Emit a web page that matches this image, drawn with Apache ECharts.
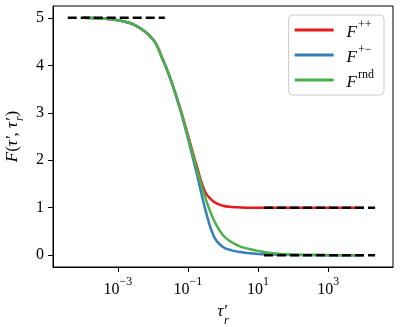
<!DOCTYPE html>
<html>
<head>
<meta charset="utf-8">
<script src="https://cdn.jsdelivr.net/npm/echarts@6/dist/echarts.min.js"></script>
<style>
  html, body { margin: 0; padding: 0; background: #fff; }
  #main { width: 400px; height: 327px; }
</style>
</head>
<body>
<div id="main"></div>
<script>
// x positions as log10(tau'_r)
var logX = [-4, -3.5, -3, -2.5, -2, -1.75, -1.5, -1.25, -1, -0.75, -0.5, -0.25, 0, 0.25, 0.5, 0.75, 1, 1.25, 1.5, 2, 2.5, 3, 3.5, 4]
// F++ (red), F+- (blue), Frnd (green)
var fPP = [5.0, 4.985, 4.95, 4.84, 4.55, 4.18, 3.72, 3.16, 2.53, 1.88, 1.32, 1.12, 1.04, 1.015, 1.005, 1.0, 1.0, 1.0, 1.0, 1.0, 1.0, 1.0, 1.0, 1.0]
var fPM = [5.0, 4.985, 4.95, 4.84, 4.55, 4.18, 3.71, 3.14, 2.46, 1.72, 0.95, 0.38, 0.17, 0.1, 0.065, 0.04, 0.025, 0.015, 0.01, 0.003, 0.001, 0, 0, 0]
var fRnd = [5.0, 4.985, 4.95, 4.84, 4.55, 4.18, 3.72, 3.15, 2.5, 1.82, 1.2, 0.72, 0.42, 0.27, 0.18, 0.13, 0.09, 0.055, 0.035, 0.012, 0.004, 0.001, 0, 0]
// black dashed asymptotes: [log10 x start, log10 x end, level]
var asymLeft = [-4.43, -1.66, 5]
var asymHigh = [1.17, 4.34, 1]
var asymLow = [1.17, 4.34, 0]
var xTicks = [-3, -1, 1, 3]
var yTicks = [0, 1, 2, 3, 4, 5]
var names = ['{f|F}{s|++}', '{f|F}{s|+−}', '{f|F}{s|rnd}']

var serif = 'Liberation Serif'
var pair = (a, b) => a.map((v, i) => [v, b[i]])
var seg = (s) => [[s[0], s[2]], [s[1], s[2]]]

var myChart = echarts.init(document.getElementById('main'))

var curve = (name, data, color, z) => ({
  type: 'line',
  name: name,
  data: pair(logX, data),
  smooth: 0.4,
  showSymbol: false,
  symbol: 'none',
  z: z,
  itemStyle: { color: color },
  lineStyle: { color: color, width: 2.5 }
})
var dash = (s) => ({
  type: 'line',
  data: seg(s),
  showSymbol: false,
  symbol: 'none',
  z: 10,
  lineStyle: { color: '#000', width: 2.5, type: [9, 4] }
})

var option = {
  animation: false,
  backgroundColor: '#fff',
  grid: { left: 53, right: 7, top: 6, bottom: 60, outerBoundsMode: 'none', show: true, borderColor: '#000', borderWidth: 1 },
  legend: {
    orient: 'vertical',
    right: 16,
    top: 15,
    icon: 'rect',
    itemWidth: 39,
    itemHeight: 3,
    itemGap: 3,
    padding: [4, 10, 4, 6],
    borderColor: '#cccccc',
    borderWidth: 1,
    borderRadius: 4,
    backgroundColor: 'rgba(255,255,255,0.8)',
    data: names,
    formatter: (n) => n,
    textStyle: {
      padding: [0, 0, 0, 8],
      rich: {
        f: { fontFamily: serif, fontStyle: 'italic', fontSize: 17, lineHeight: 22, verticalAlign: 'bottom', color: '#000' },
        s: { fontFamily: serif, fontSize: 12, lineHeight: 14, verticalAlign: 'top', color: '#000', padding: [0, 0, 0, 1] }
      }
    }
  },
  xAxis: {
    type: 'value',
    min: -4.85,
    max: 4.85,
    name: '{t|τ′}{r|r}',
    nameLocation: 'middle',
    nameGap: 36,
    nameTextStyle: {
      rich: {
        t: { fontFamily: serif, fontStyle: 'italic', fontSize: 17, lineHeight: 18, verticalAlign: 'top', color: '#000' },
        r: { fontFamily: serif, fontStyle: 'italic', fontSize: 12, lineHeight: 24, verticalAlign: 'top', color: '#000', padding: [12, 0, 0, -3] }
      }
    },
    axisLine: { onZero: false, lineStyle: { color: '#000', width: 1 } },
    splitLine: { show: false },
    axisTick: { customValues: xTicks, length: 5, lineStyle: { color: '#000' } },
    axisLabel: {
      customValues: xTicks,
      margin: 9,
      formatter: (v) => '{b|10}{e|' + (v < 0 ? '−' : '') + Math.abs(v) + '}',
      rich: {
        b: { fontFamily: serif, fontSize: 16, lineHeight: 22, verticalAlign: 'bottom', color: '#000' },
        e: { fontFamily: serif, fontSize: 12, lineHeight: 14, verticalAlign: 'top', color: '#000' }
      }
    }
  },
  yAxis: {
    type: 'value',
    min: -0.25,
    max: 5.25,
    name: '{i|F}{n|(}{i|τ′}{n|, }{i|τ′}{r|r}{n|)}',
    nameLocation: 'middle',
    nameGap: 27,
    nameMoveOverlap: false,
    nameTextStyle: {
      rich: {
        i: { fontFamily: serif, fontStyle: 'italic', fontSize: 17, lineHeight: 22, verticalAlign: 'top', color: '#000' },
        n: { fontFamily: serif, fontSize: 17, lineHeight: 22, verticalAlign: 'top', color: '#000' },
        r: { fontFamily: serif, fontStyle: 'italic', fontSize: 12, lineHeight: 12, verticalAlign: 'top', color: '#000', padding: [10, 0, 0, -3] }
      }
    },
    axisLine: { show: true, onZero: false, lineStyle: { color: '#000', width: 1 } },
    splitLine: { show: false },
    axisTick: { customValues: yTicks, length: 5, lineStyle: { color: '#000' } },
    axisLabel: {
      customValues: yTicks,
      margin: 9,
      fontFamily: serif,
      fontSize: 16,
      color: '#000'
    }
  },
  series: [
    curve(names[0], fPP, '#e41a1c', 2),
    curve(names[1], fPM, '#377eb8', 3),
    curve(names[2], fRnd, '#4daf4a', 4),
    dash(asymLeft),
    dash(asymHigh),
    dash(asymLow)
  ]
}
myChart.setOption(option)
</script>
</body>
</html>
